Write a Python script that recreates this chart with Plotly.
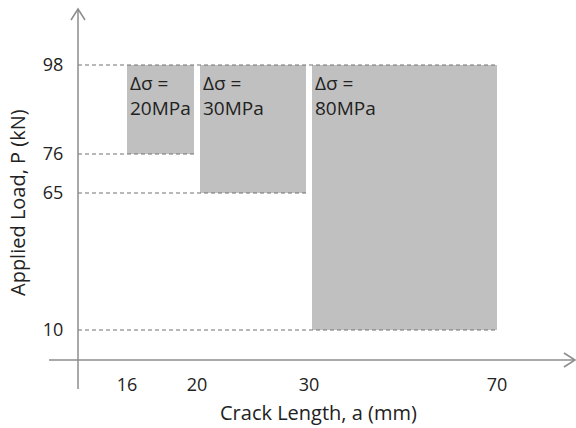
import numpy as np
import plotly.graph_objects as go

# ---- data ----
crack_lo = [16, 20, 30]          # crack length a (mm), start of each range
crack_hi = [20, 30, 70]          # crack length a (mm), end of each range
load_lo = [76, 65, 10]           # applied load P (kN), lower bound
load_hi = [98, 98, 98]           # applied load P (kN), upper bound
stress_range = ["20MPa", "30MPa", "80MPa"]
x_ticks = [16, 20, 30, 70]
y_ticks = [10, 65, 76, 98]

# ---- schematic (non-proportional) axis scales used by the source figure ----
X_BREAKS = [0, 16, 20, 30, 70]
X_UNITS = [0, 49, 119, 231, 419]
Y_BREAKS = [0, 10, 65, 76, 98]
Y_UNITS = [0, 30, 167, 206, 295]


def sx(v):
    return float(np.interp(v, X_BREAKS, X_UNITS))


def sy(v):
    return float(np.interp(v, Y_BREAKS, Y_UNITS))


W, H = 576, 428
ML, MB, MT, MR = 78, 68, 0, 0
PW, PH = W - ML - MR, H - MT - MB


def px(xp):
    return (xp - ML) / PW


def py(yp):
    return (H - MB - yp) / PH


AXIS_COL = "#8c8c8c"
DASH_COL = "#707070"
TEXT_COL = "#222222"
FILL = "#c0c0c0"
FONT = "Open Sans"
GAP = 3

fig = go.Figure()
# invisible trace to establish axes
fig.add_trace(go.Scatter(x=[0], y=[0], mode="markers", marker=dict(opacity=0),
                         showlegend=False, hoverinfo="skip"))

shapes = []
annotations = []
n = len(crack_lo)
all_lo = set(crack_lo)
all_hi = set(crack_hi)
box_right = []
for i in range(n):
    x0 = sx(crack_lo[i]) + (GAP if crack_lo[i] in all_hi else 0)
    x1 = sx(crack_hi[i]) - (GAP if crack_hi[i] in all_lo else 0)
    box_right.append(x1)
    shapes.append(dict(type="rect", xref="x", yref="y", x0=x0, x1=x1,
                       y0=sy(load_lo[i]), y1=sy(load_hi[i]),
                       fillcolor=FILL, line=dict(width=0), layer="below"))
    annotations.append(dict(xref="x", yref="y", x=x0 + 1, y=sy(load_hi[i]) - 3,
                            xanchor="left", yanchor="top", align="left",
                            showarrow=False,
                            text="Δσ =<br>" + stress_range[i],
                            font=dict(family=FONT, size=19, color=TEXT_COL)))

# dashed guide lines
top_load = max(load_hi)
shapes.append(dict(type="line", xref="x", yref="y", x0=0, x1=max(box_right),
                   y0=sy(top_load), y1=sy(top_load),
                   line=dict(color=DASH_COL, width=1, dash="4px,3px")))
for i in range(n):
    shapes.append(dict(type="line", xref="x", yref="y", x0=0, x1=box_right[i],
                       y0=sy(load_lo[i]), y1=sy(load_lo[i]),
                       line=dict(color=DASH_COL, width=1, dash="4px,3px")))

# axis lines with open arrowheads
shapes.append(dict(type="line", xref="paper", yref="paper",
                   x0=px(49), x1=px(575), y0=0, y1=0,
                   line=dict(color=AXIS_COL, width=1.5)))
shapes.append(dict(type="line", xref="paper", yref="paper",
                   x0=0, x1=0, y0=py(389), y1=py(9),
                   line=dict(color=AXIS_COL, width=1.5)))
shapes.append(dict(type="path", xref="paper", yref="paper",
                   path=f"M {px(564)} {py(353)} L {px(575)} {py(360)} L {px(564)} {py(367)}",
                   line=dict(color=AXIS_COL, width=1.5)))
shapes.append(dict(type="path", xref="paper", yref="paper",
                   path=f"M {px(71)} {py(20)} L {px(78)} {py(9)} L {px(85)} {py(20)}",
                   line=dict(color=AXIS_COL, width=1.5)))

annotations.append(dict(xref="paper", yref="paper", x=px(318), y=py(412),
                        xanchor="center", yanchor="middle", showarrow=False,
                        text="Crack Length, a (mm)",
                        font=dict(family=FONT, size=20, color=TEXT_COL)))
annotations.append(dict(xref="paper", yref="paper", x=px(17), y=py(203),
                        xanchor="center", yanchor="middle", showarrow=False,
                        textangle=-90, text="Applied Load, P (kN)",
                        font=dict(family=FONT, size=20, color=TEXT_COL)))

fig.update_layout(
    width=W, height=H,
    margin=dict(l=ML, r=MR, t=MT, b=MB),
    paper_bgcolor="white", plot_bgcolor="white",
    showlegend=False,
    shapes=shapes, annotations=annotations,
    xaxis=dict(range=[0, PW], showgrid=False, zeroline=False, showline=False,
               tickvals=[sx(v) for v in x_ticks], ticktext=[str(v) for v in x_ticks],
               ticks="outside", ticklen=8, tickcolor="rgba(0,0,0,0)",
               tickfont=dict(family=FONT, size=18, color=TEXT_COL),
               fixedrange=True),
    yaxis=dict(range=[0, PH], showgrid=False, zeroline=False, showline=False,
               tickvals=[sy(v) for v in y_ticks], ticktext=[str(v) for v in y_ticks],
               ticks="outside", ticklen=10, tickcolor="rgba(0,0,0,0)",
               tickfont=dict(family=FONT, size=18, color=TEXT_COL),
               fixedrange=True),
)

fig.write_html("out.html")
